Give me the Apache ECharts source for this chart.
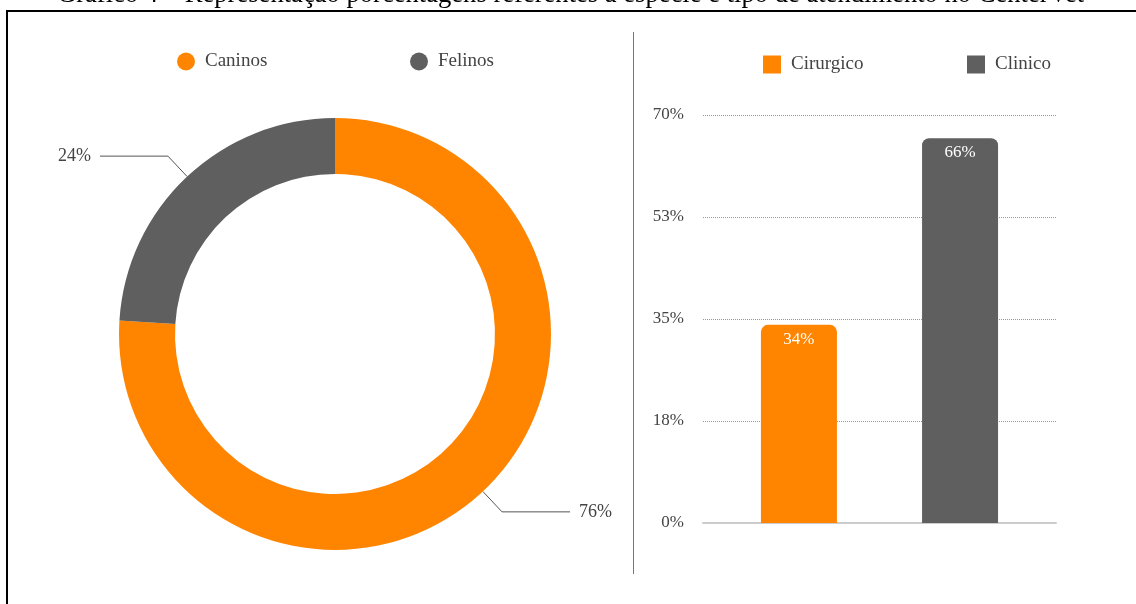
<!DOCTYPE html>
<html>
<head>
<meta charset="utf-8">
<script src="https://cdn.jsdelivr.net/npm/echarts@6/dist/echarts.min.js"></script>
<style>
  html, body { margin: 0; padding: 0; background: #fff; }
  #chart { width: 1136px; height: 604px; }
</style>
</head>
<body>
<div id="chart"></div>
<script>
// Species share (donut)
const speciesNames = ['Caninos', 'Felinos'];
const speciesValues = [76, 24];

// Service type share (bars)
const serviceNames = ['Cirurgico', 'Clinico'];
const serviceValues = [34, 66];

// Value axis ticks
const yMin = 0, yMax = 70, yStep = 17.5;

const titleText = 'Gráfico 4 – Representação porcentagens referentes à espécie e tipo de atendimento no CenterVet';

const ORANGE = '#FF8500';
const GRAY = '#5F5F5F';
const TEXT = '#444444';
const FONT = '"Liberation Serif", "Times New Roman", serif';

const chart = echarts.init(document.getElementById('chart'));

const legendBase = {
  itemWidth: 18, itemHeight: 18, itemGap: 10,
  textStyle: { fontFamily: FONT, fontSize: 19, color: TEXT, padding: [0, 0, 0, 5] },
  selectedMode: false
};

chart.setOption({
  animation: false,
  color: [ORANGE, GRAY],
  textStyle: { fontFamily: FONT },
  graphic: [
    { type: 'text', left: 57, top: -18,
      style: { text: titleText, font: '26.6px ' + FONT, fill: '#000' } },
    { type: 'rect', shape: { x: 7, y: 11, width: 1200, height: 700 },
      style: { fill: 'none', stroke: '#000', lineWidth: 2 } },
    { type: 'line', shape: { x1: 633.5, y1: 32, x2: 633.5, y2: 574 },
      style: { stroke: '#777', lineWidth: 1 } }
  ],
  legend: [
    Object.assign({}, legendBase, { data: [{ name: speciesNames[0], icon: 'circle' }], left: 172, top: 47 }),
    Object.assign({}, legendBase, { data: [{ name: speciesNames[1], icon: 'circle' }], left: 405, top: 47 }),
    Object.assign({}, legendBase, { data: [{ name: serviceNames[0], icon: 'rect' }], left: 758, top: 50 }),
    Object.assign({}, legendBase, { data: [{ name: serviceNames[1], icon: 'rect' }], left: 962, top: 50 })
  ],
  grid: { left: 703, right: 80, top: 115, bottom: 81 },
  xAxis: {
    type: 'category',
    data: [''],
    axisLine: { lineStyle: { color: '#cccccc', width: 2 } },
    axisTick: { show: false },
    axisLabel: { show: false }
  },
  yAxis: {
    type: 'value',
    min: yMin, max: yMax, interval: yStep,
    axisLine: { show: false },
    axisTick: { show: false },
    axisLabel: {
      margin: 19, fontSize: 17, color: TEXT, fontFamily: FONT,
      formatter: v => Math.round(v) + '%'
    },
    splitLine: { lineStyle: { color: '#999', type: [1, 1], width: 1 } }
  },
  series: [
    {
      type: 'pie',
      center: [335, 334],
      radius: [160, 216],
      startAngle: 90,
      clockwise: true,
      silent: true,
      data: speciesNames.map((n, i) => ({ name: n, value: speciesValues[i] })),
      label: {
        formatter: p => p.value + '%',
        fontSize: 18, color: TEXT, fontFamily: FONT,
        distanceToLabelLine: 9
      },
      labelLine: { length: 28, length2: 68, lineStyle: { color: '#555', width: 1 } }
    },
    {
      type: 'bar',
      name: serviceNames[0],
      data: [serviceValues[0]],
      barWidth: 76,
      barGap: '112%',
      itemStyle: { color: ORANGE, borderRadius: [7, 7, 0, 0] },
      label: { show: true, position: 'insideTop', distance: 6, color: '#fff', fontSize: 17, fontFamily: FONT, formatter: p => p.value + '%' }
    },
    {
      type: 'bar',
      name: serviceNames[1],
      data: [serviceValues[1]],
      barWidth: 76,
      barGap: '112%',
      itemStyle: { color: GRAY, borderRadius: [7, 7, 0, 0] },
      label: { show: true, position: 'insideTop', distance: 6, color: '#fff', fontSize: 17, fontFamily: FONT, formatter: p => p.value + '%' }
    }
  ]
});
</script>
</body>
</html>
